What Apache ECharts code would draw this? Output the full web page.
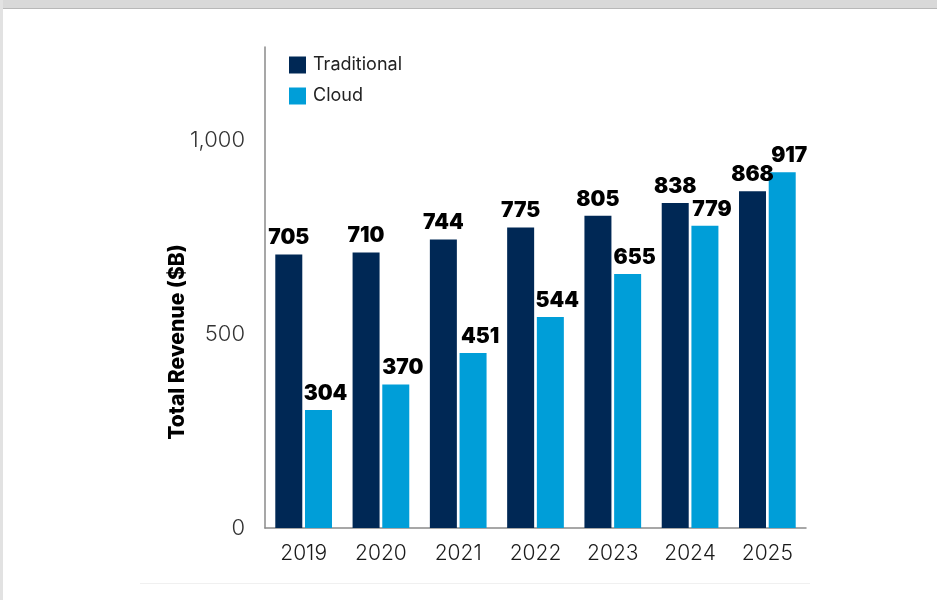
<!DOCTYPE html>
<html>
<head>
<meta charset="utf-8">
<script src="https://cdn.jsdelivr.net/npm/echarts@6/dist/echarts.min.js"></script>
<style>
html,body{margin:0;padding:0;background:#fff;}
#topband{position:absolute;left:0;top:0;width:937px;height:8px;background:#d9d9d9;border-bottom:1px solid #b8b8b8;}
#leftband{position:absolute;left:0;top:0;width:3px;height:600px;background:#e2e2e2;}
#bottomline{position:absolute;left:140px;top:583px;width:670px;height:1px;background:#f0f0f0;}
#chart{position:absolute;left:0;top:0;width:937px;height:600px;}
</style>
</head>
<body>
<div id="topband"></div>
<div id="leftband"></div>
<div id="bottomline"></div>
<div id="chart"></div>
<script>
const years = ['2019','2020','2021','2022','2023','2024','2025'];
const traditional = [705, 710, 744, 775, 805, 838, 868];
const cloud = [304, 370, 451, 544, 655, 779, 917];
const yTicks = [0, 500, 1000];

const chart = echarts.init(document.getElementById('chart'), null, {renderer:'canvas'});
const labelStyle = {
  show: true, position: 'top', distance: 6,
  color: '#000', fontFamily: 'Inter', fontWeight: 900, fontSize: 21
};
chart.setOption({
  animation: false,
  grid: {left: 265, right: 131, top: 47, bottom: 72, containLabel: false},
  legend: {
    orient: 'vertical', left: 284, top: 51, itemWidth: 17, itemHeight: 17, itemGap: 13,
    icon: 'rect',
    textStyle: {fontFamily: 'Inter', fontSize: 18, color: '#222', padding: [0,0,0,2]},
    data: ['Traditional', 'Cloud']
  },
  xAxis: {
    type: 'category', data: years,
    axisLine: {lineStyle: {color: '#8a8a8a', width: 1.5}},
    axisTick: {show: false},
    axisLabel: {fontFamily: 'Inter', fontSize: 21, color: '#1a1a1a', margin: 15, fontWeight: 300}
  },
  yAxis: {
    type: 'value', min: 0, max: 1240, interval: 500,
    axisLine: {show: true, lineStyle: {color: '#8a8a8a', width: 1.5}},
    axisTick: {show: false},
    splitLine: {show: false},
    axisLabel: {
      fontFamily: 'Inter', fontSize: 22, color: '#333', margin: 20, fontWeight: 300,
      formatter: v => yTicks.includes(v) ? v.toLocaleString('en-US') : ''
    }
  },
  graphic: [{
    type: 'text', x: 178, y: 342, rotation: Math.PI / 2,
    style: {text: 'Total Revenue ($B)', fontFamily: 'Inter', fontWeight: 800, fontSize: 21,
      fill: '#000', align: 'center', verticalAlign: 'middle'}
  }],
  series: [
    {name: 'Traditional', type: 'bar', data: traditional, barWidth: 27, barGap: '10%',
     itemStyle: {color: '#002855'},
     label: labelStyle},
    {name: 'Cloud', type: 'bar', data: cloud, barWidth: 27,
     itemStyle: {color: '#009ED8'},
     label: Object.assign({}, labelStyle, {offset: [7, 0]})}
  ]
});
</script>
</body>
</html>
